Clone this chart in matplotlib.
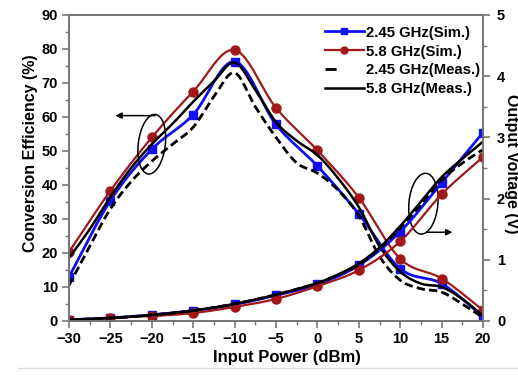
import numpy as np
import matplotlib
matplotlib.use('Agg')
import matplotlib.pyplot as plt
from matplotlib.patches import Ellipse
from matplotlib.transforms import ScaledTranslation
from matplotlib.lines import Line2D

plt.rcParams['font.family'] = ['Liberation Sans', 'DejaVu Sans']
plt.rcParams['font.weight'] = 'bold'

# simulated points (every 5 dBm)
p_sim = [-30, -25, -20, -15, -10, -5, 0, 5, 10, 15, 20]
eff_245_sim = [13, 35.4, 50.5, 60.7, 76.3, 57.8, 45.6, 31.5, 15.4, 11, 1.3]
eff_58_sim = [20.3, 38.3, 54, 67.5, 79.7, 62.7, 50.2, 36.3, 18.3, 12.5, 3.2]
vout_245_sim = [0.02, 0.05, 0.1, 0.17, 0.27, 0.42, 0.6, 0.91, 1.46, 2.26, 3.08]
vout_58_sim = [0.02, 0.05, 0.08, 0.13, 0.23, 0.36, 0.57, 0.83, 1.3, 2.07, 2.68]

# measured points (every 2.5 dBm)
p_meas = [-30, -27.5, -25, -22.5, -20, -17.5, -15, -12.5, -10, -7.5, -5,
          -2.5, 0, 2.5, 5, 7.5, 10, 12.5, 15, 17.5, 20]
eff_245_meas = [10.5, 22, 33, 41, 47, 52, 57, 66, 73, 63, 54,
                46.5, 43.5, 38.5, 31, 19, 12, 9.5, 8.5, 5, 1]
eff_58_meas = [18.5, 27, 36.5, 45, 52, 58, 64.5, 70.5, 76, 68, 58.5,
               53, 48.8, 42, 33.5, 22, 14.5, 11, 10, 6.5, 1.5]
vout_245_meas = [0.02, 0.03, 0.05, 0.07, 0.1, 0.13, 0.17, 0.22, 0.28, 0.35, 0.43,
                 0.52, 0.62, 0.75, 0.92, 1.18, 1.52, 1.9, 2.3, 2.58, 2.8]
vout_58_meas = [0.02, 0.03, 0.05, 0.07, 0.1, 0.13, 0.17, 0.22, 0.28, 0.35, 0.43,
                0.52, 0.62, 0.76, 0.94, 1.2, 1.55, 1.95, 2.35, 2.65, 2.93]

labels = ['2.45 GHz(Sim.)', '5.8 GHz(Sim.)', '2.45 GHz(Meas.)', '5.8 GHz(Meas.)']
blue = '#1010f0'
red = '#a01818'


def smooth(x, y, n=24):
    # spline-style connection between points (cubic Hermite, Catmull-Rom slopes)
    x = np.asarray(x, float)
    y = np.asarray(y, float)
    m = np.gradient(y, x)
    xs, ys = [], []
    t = np.linspace(0, 1, n, endpoint=False)
    for i in range(len(x) - 1):
        h = x[i + 1] - x[i]
        h00 = 2 * t**3 - 3 * t**2 + 1
        h10 = t**3 - 2 * t**2 + t
        h01 = -2 * t**3 + 3 * t**2
        h11 = t**3 - t**2
        xs.append(x[i] + t * h)
        ys.append(h00 * y[i] + h10 * h * m[i] + h01 * y[i + 1] + h11 * h * m[i + 1])
    xs.append([x[-1]])
    ys.append([y[-1]])
    return np.concatenate(xs), np.concatenate(ys)


fig = plt.figure(figsize=(5.18, 3.75), dpi=100)
ax = fig.add_axes([69 / 518, 1 - 321 / 375, 414 / 518, 306 / 375])
ax2 = ax.twinx()

dash = (0, (3, 1.5))


def draw(a, sim_b, sim_r, meas_b, meas_r):
    a.plot(*smooth(p_sim, sim_b), color=blue, lw=2.0)
    a.plot(p_sim, sim_b, 's', color=blue, ms=6)
    a.plot(*smooth(p_sim, sim_r), color=red, lw=1.6)
    a.plot(p_sim, sim_r, 'o', color=red, ms=6.5)
    a.plot(*smooth(p_meas, meas_b), color='black', lw=2.0, linestyle=dash)
    a.plot(*smooth(p_meas, meas_r), color='black', lw=1.8)


draw(ax, eff_245_sim, eff_58_sim, eff_245_meas, eff_58_meas)
draw(ax2, vout_245_sim, vout_58_sim, vout_245_meas, vout_58_meas)

ax.set_xlim(-30, 20)
ax.set_ylim(0, 90)
ax2.set_ylim(0, 5)
ax.set_xticks(np.arange(-30, 21, 5))
ax.set_xticks(np.arange(-30, 21, 2.5), minor=True)
ax.set_yticks(np.arange(0, 91, 10))
ax.set_yticks(np.arange(0, 91, 5), minor=True)
ax2.set_yticks(np.arange(0, 6, 1))
ax2.set_yticks(np.arange(0, 5.1, 0.5), minor=True)

spine_c = '#777777'
for a in (ax, ax2):
    for s in a.spines.values():
        s.set_color(spine_c)
        s.set_linewidth(1.3)
    a.tick_params(which='major', direction='out', length=5, width=1.2,
                  color=spine_c, labelsize=10.5, pad=3)
    a.tick_params(which='minor', direction='out', length=3, width=1.0,
                  color=spine_c)
ax.tick_params(axis='y', right=False)
ax.tick_params(axis='x', top=False)
ax2.tick_params(axis='y', which='major', pad=5)

ax.set_xlabel('Input Power (dBm)', fontsize=12, fontweight='bold')
ax.xaxis.set_label_coords(0.527, -0.095)
ax.set_ylabel('Conversion Efficiency (%)', fontsize=11.5, fontweight='bold')
ax.yaxis.set_label_coords(-0.075, 0.55)
ax2.set_ylabel('Output Voltage (V)', fontsize=11.5, fontweight='bold', rotation=270)
ax2.yaxis.set_label_coords(1.088, 0.515)

handles = [
    Line2D([], [], color=blue, lw=2.0, marker='s', ms=4.5),
    Line2D([], [], color=red, lw=1.6, marker='o', ms=5),
    Line2D([], [], color='black', lw=2.0, linestyle=(0, (4, 50))),
    Line2D([], [], color='black', lw=1.8),
]
ax.legend(handles, labels, loc='upper right', bbox_to_anchor=(1.0, 0.975),
          frameon=False, prop={'size': 10.7, 'weight': 'bold'},
          handlelength=2.6, handletextpad=0.15, labelspacing=0.33,
          borderaxespad=0.0, borderpad=0.2)

# ellipses marking which axis each group belongs to
for (cx, cy, w, h, ang) in [(-20.0, 52.0, 0.27, 0.60, -7), (12.8, 34.5, 0.29, 0.61, -5)]:
    tr = fig.dpi_scale_trans + ScaledTranslation(cx, cy, ax.transData)
    ax.add_patch(Ellipse((0, 0), w, h, angle=ang, fill=False, lw=1.1,
                         edgecolor='black', transform=tr, zorder=5))

ax.annotate('', xy=(-24.4, 60.4), xytext=(-19.6, 60.4),
            arrowprops=dict(arrowstyle='-|>', color='black', lw=1.1,
                            mutation_scale=9, shrinkA=0, shrinkB=0))
ax2.annotate('', xy=(16.3, 1.45), xytext=(13.2, 1.45),
             arrowprops=dict(arrowstyle='-|>', color='black', lw=1.1,
                             mutation_scale=9, shrinkA=0, shrinkB=0))

fig.add_artist(Line2D([18 / 518, 1], [1 - 368 / 375] * 2, color='#dddddd', lw=1))

fig.savefig('out.png', dpi=100)
